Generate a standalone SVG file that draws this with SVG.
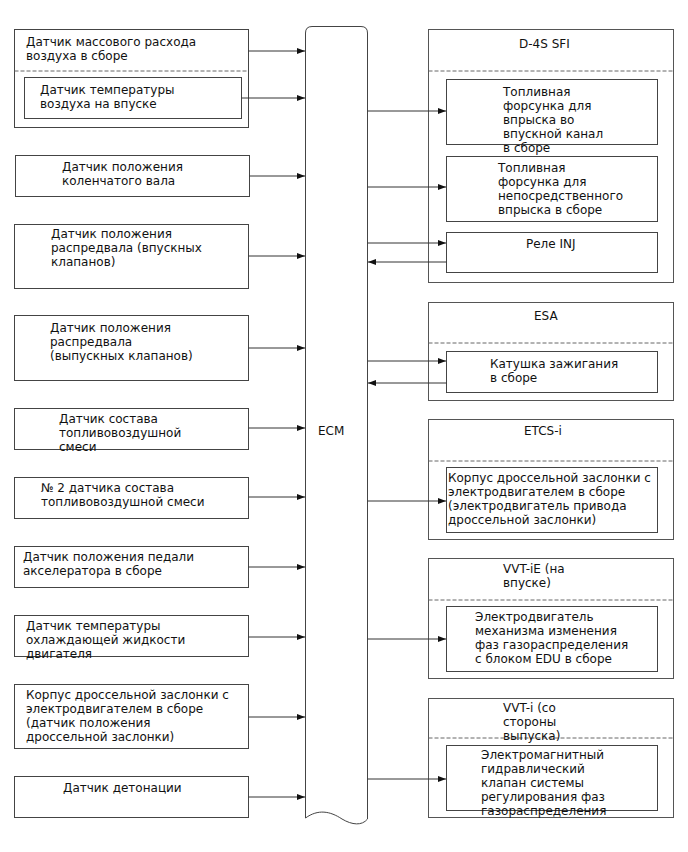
<svg xmlns="http://www.w3.org/2000/svg" width="688" height="852" viewBox="0 0 688 852">
<defs>
<style>
.box{fill:#fff;stroke:#444;stroke-width:1}
.grp{fill:#fff;stroke:#555;stroke-width:1}
.dash{stroke:#666;stroke-width:1;stroke-dasharray:4 2;fill:none}
.ln{stroke:#333;stroke-width:1;fill:none;marker-end:url(#ah)}
text{font-family:"DejaVu Sans","Noto Sans",sans-serif;font-size:12px;fill:#111}
</style>
<marker id="ah" markerWidth="9" markerHeight="7" refX="8" refY="3" orient="auto" markerUnits="userSpaceOnUse">
<path d="M0,0 L8,3 L0,6 z" fill="#111"/>
</marker>
</defs>
<rect width="688" height="852" fill="#fff"/>

<g id="ecm">
<path class="box" d="M305.5,818 L305.5,33 Q305.5,26.5 312,26.5 L361,26.5 Q367.5,26.5 367.5,33 L367.5,819 C362,826 352,825 342,819 C330,811 318,809 305.5,818 Z"/>
<text x="318" y="435">ECM</text>
</g>

<g id="maf">
<rect class="box" x="14.5" y="29.5" width="234" height="98"/>
<line class="dash" x1="14.5" y1="71" x2="248.5" y2="71"/>
<text x="26" y="46">Датчик массового расхода</text>
<text x="26" y="60">воздуха в сборе</text>
</g>
<g id="iat">
<rect class="box" x="24.5" y="77.5" width="217" height="41"/>
<text x="40" y="94">Датчик температуры</text>
<text x="40" y="108">воздуха на впуске</text>
</g>
<g id="ckp">
<rect class="box" x="15.5" y="155.5" width="234" height="41"/>
<text x="62" y="170.5">Датчик положения</text>
<text x="62" y="184.5">коленчатого вала</text>
</g>
<g id="cmp-in">
<rect class="box" x="14.5" y="224.5" width="234" height="64"/>
<text x="51" y="237.5">Датчик положения</text>
<text x="51" y="251.5">распредвала (впускных</text>
<text x="51" y="265.5">клапанов)</text>
</g>
<g id="cmp-ex">
<rect class="box" x="14.5" y="315.5" width="234" height="65"/>
<text x="50" y="331.5">Датчик положения</text>
<text x="50" y="345.5">распредвала</text>
<text x="50" y="359.5">(выпускных клапанов)</text>
</g>
<g id="af">
<rect class="box" x="14.5" y="408.5" width="234" height="41"/>
<text x="59" y="422.5">Датчик состава</text>
<text x="59" y="436.5">топливовоздушной</text>
<text x="59" y="450.5">смеси</text>
</g>
<g id="af2">
<rect class="box" x="14.5" y="477.5" width="234" height="41"/>
<text x="41" y="492">№ 2 датчика состава</text>
<text x="41" y="506">топливовоздушной смеси</text>
</g>
<g id="app">
<rect class="box" x="14.5" y="546.5" width="234" height="41"/>
<text x="23" y="560.5">Датчик положения педали</text>
<text x="23" y="574.5">акселератора в сборе</text>
</g>
<g id="ect">
<rect class="box" x="14.5" y="615.5" width="234" height="41"/>
<text x="26" y="629.5">Датчик температуры</text>
<text x="26" y="643.5">охлаждающей жидкости</text>
<text x="26" y="657.5">двигателя</text>
</g>
<g id="tps">
<rect class="box" x="14.5" y="684.5" width="234" height="64"/>
<text x="26" y="698.5">Корпус дроссельной заслонки с</text>
<text x="26" y="712.5">электродвигателем в сборе</text>
<text x="26" y="726.5">(датчик положения</text>
<text x="26" y="740.5">дроссельной заслонки)</text>
</g>
<g id="knock">
<rect class="box" x="14.5" y="776.5" width="234" height="41"/>
<text x="63" y="791.5">Датчик детонации</text>
</g>

<g id="d4s">
<rect class="grp" x="428.5" y="29.5" width="245" height="253"/>
<line class="dash" x1="428.5" y1="71" x2="673.5" y2="71"/>
<text x="519" y="47.5">D-4S SFI</text>
</g>
<g id="inj-port">
<rect class="box" x="446.5" y="79.5" width="211" height="65"/>
<text x="503" y="95.5">Топливная</text>
<text x="503" y="109.5">форсунка для</text>
<text x="503" y="123.5">впрыска во</text>
<text x="503" y="137.5">впускной канал</text>
<text x="503" y="151.5">в сборе</text>
</g>
<g id="inj-direct">
<rect class="box" x="446.5" y="156.5" width="211" height="65"/>
<text x="498" y="171.5">Топливная</text>
<text x="498" y="185.5">форсунка для</text>
<text x="498" y="199.5">непосредственного</text>
<text x="498" y="213.5">впрыска в сборе</text>
</g>
<g id="inj-relay">
<rect class="box" x="446.5" y="232.5" width="211" height="40"/>
<text x="526" y="247.5">Реле INJ</text>
</g>

<g id="esa">
<rect class="grp" x="428.5" y="302.5" width="245" height="98"/>
<line class="dash" x1="428.5" y1="343" x2="673.5" y2="343"/>
<text x="534" y="319.5">ESA</text>
</g>
<g id="coil">
<rect class="box" x="446.5" y="351.5" width="211" height="41"/>
<text x="490" y="367.5">Катушка зажигания</text>
<text x="490" y="381.5">в сборе</text>
</g>

<g id="etcs">
<rect class="grp" x="428.5" y="419.5" width="245" height="120"/>
<line class="dash" x1="428.5" y1="461" x2="673.5" y2="461"/>
<text x="524" y="434.5">ETCS-i</text>
</g>
<g id="throttle-motor">
<rect class="box" x="446.5" y="467.5" width="211" height="65"/>
<text x="448" y="481.5">Корпус дроссельной заслонки с</text>
<text x="448" y="495.5">электродвигателем в сборе</text>
<text x="448" y="509.5">(электродвигатель привода</text>
<text x="448" y="523.5">дроссельной заслонки)</text>
</g>

<g id="vvtie">
<rect class="grp" x="428.5" y="558.5" width="245" height="120"/>
<line class="dash" x1="428.5" y1="600" x2="673.5" y2="600"/>
<text x="503" y="572.5">VVT-iE (на</text>
<text x="503" y="586.5">впуске)</text>
</g>
<g id="edu-motor">
<rect class="box" x="446.5" y="606.5" width="211" height="65"/>
<text x="475" y="620.5">Электродвигатель</text>
<text x="475" y="634.5">механизма изменения</text>
<text x="475" y="648.5">фаз газораспределения</text>
<text x="475" y="662.5">с блоком EDU в сборе</text>
</g>

<g id="vvti">
<rect class="grp" x="428.5" y="698.5" width="245" height="119"/>
<line class="dash" x1="428.5" y1="738" x2="673.5" y2="738"/>
<text x="503" y="711.5">VVT-i (со</text>
<text x="503" y="725.5">стороны</text>
<text x="503" y="739.5">выпуска)</text>
</g>
<g id="ocv">
<rect class="box" x="446.5" y="745.5" width="211" height="65"/>
<text x="481" y="758.5">Электромагнитный</text>
<text x="481" y="772.5">гидравлический</text>
<text x="481" y="786.5">клапан системы</text>
<text x="481" y="800.5">регулирования фаз</text>
<text x="481" y="814.5">газораспределения</text>
</g>

<g id="connectors">
<line class="ln" x1="248.5" y1="51" x2="305" y2="51"/>
<line class="ln" x1="241.5" y1="98" x2="305" y2="98"/>
<line class="ln" x1="249.5" y1="176" x2="305" y2="176"/>
<line class="ln" x1="248.5" y1="256" x2="305" y2="256"/>
<line class="ln" x1="248.5" y1="348" x2="305" y2="348"/>
<line class="ln" x1="248.5" y1="428" x2="305" y2="428"/>
<line class="ln" x1="248.5" y1="497" x2="305" y2="497"/>
<line class="ln" x1="248.5" y1="567" x2="305" y2="567"/>
<line class="ln" x1="248.5" y1="637" x2="305" y2="637"/>
<line class="ln" x1="248.5" y1="717" x2="305" y2="717"/>
<line class="ln" x1="248.5" y1="797" x2="305" y2="797"/>
<line class="ln" x1="367.5" y1="111" x2="446" y2="111"/>
<line class="ln" x1="367.5" y1="187" x2="446" y2="187"/>
<line class="ln" x1="367.5" y1="243" x2="446" y2="243"/>
<line class="ln" x1="446.5" y1="262" x2="368" y2="262"/>
<line class="ln" x1="367.5" y1="361" x2="446" y2="361"/>
<line class="ln" x1="446.5" y1="383" x2="368" y2="383"/>
<line class="ln" x1="367.5" y1="501" x2="446" y2="501"/>
<line class="ln" x1="367.5" y1="639" x2="446" y2="639"/>
<line class="ln" x1="367.5" y1="779" x2="446" y2="779"/>
</g>
</svg>
